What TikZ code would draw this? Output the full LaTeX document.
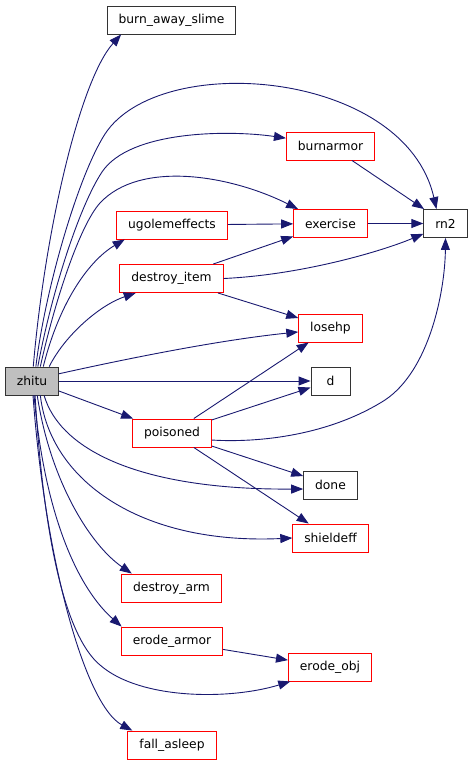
\documentclass[tikz,border=0pt]{standalone}
\usepackage{fontspec}
\setmainfont{DejaVu Sans}
\usetikzlibrary{arrows.meta}
\definecolor{navy}{RGB}{25,25,112}
\definecolor{red}{RGB}{255,0,0}
\definecolor{grey}{RGB}{191,191,191}

\begin{document}
\begin{tikzpicture}[x=1pt, y=-1pt, font=\fontsize{12.3}{14}\selectfont,
  fn/.style={draw=black!80, line width=0.9pt, fill=white, minimum height=28pt, inner xsep=11.5pt, inner ysep=0pt},
  fnred/.style={fn, draw=red},
  call/.style={-{Triangle[length=12pt,width=9pt]}, line width=0.9pt, navy}]
\useasboundingbox (0,0) rectangle (472,765);
\node[fn, fill=grey] (zhitu) at (32,381) {zhitu};
\node[fn] (slime) at (171.5,20) {burn\_away\_slime};
\node[fnred] (burn) at (330.5,146) {burnarmor};
\node[fn] (rn2) at (445.5,223.5) {rn2};
\node[fnred] (ugol) at (172,225) {ugolemeffects};
\node[fnred] (exer) at (330.5,223.5) {exercise};
\node[fnred] (ditem) at (171.5,278.5) {destroy\_item};
\node[fnred] (losehp) at (330.5,328) {losehp};
\node[fn, minimum width=39pt] (d) at (330.5,381) {d};
\node[fnred] (pois) at (172,433) {poisoned};
\node[fn] (finish) at (330.5,485) {done};
\node[fnred] (shield) at (330.5,538) {shieldeff};
\node[fnred] (darm) at (171.5,588) {destroy\_arm};
\node[fnred] (earmor) at (172,641) {erode\_armor};
\node[fnred] (eobj) at (330,667) {erode\_obj};
\node[fnred] (sleep) at (172,745) {fall\_asleep};
\draw[call] (zhitu.85) .. controls (45,230) and (80,80) .. (slime.196);
\draw[call] (zhitu.75) .. controls (45,290) and (78,176) .. (105,134) .. controls (160,50) and (405,70) .. (rn2.122);
\draw[call] (zhitu.68) .. controls (52,290) and (80,205) .. (102,172) .. controls (130,130) and (230,130) .. (burn.170);
\draw[call] (zhitu.60) .. controls (55,300) and (80,225) .. (100,203) .. controls (140,160) and (230,175) .. (exer.156);
\draw[call] (zhitu.52) .. controls (60,300) and (90,260) .. (ugol.197);
\draw[call] (zhitu.40) .. controls (65,335) and (100,305) .. (ditem.202);
\draw[call] (zhitu.15) .. controls (130,358) and (220,340) .. (losehp.187);
\draw[call] (zhitu) -- (d);
\draw[call] (zhitu) -- (pois);
\draw[call] (zhitu.-50) .. controls (60,450) and (140,490) .. ([yshift=-4pt]finish.west);
\draw[call] (zhitu.-60) .. controls (50,480) and (140,545) .. (shield.west);
\draw[call] (zhitu.-70) .. controls (50,480) and (90,545) .. (darm.160);
\draw[call] (zhitu.-82) .. controls (45,520) and (80,590) .. (earmor.164);
\draw[call] (zhitu.-78) .. controls (45,560) and (70,640) .. (100,665) .. controls (140,700) and (230,700) .. (eobj.200);
\draw[call] (zhitu.-86) .. controls (45,560) and (85,705) .. (sleep.160);
\draw[call] (ugol) -- (exer);
\draw[call] (ditem) -- (exer);
\draw[call] (ditem.east) .. controls (300,275) and (380,252) .. (rn2.205);
\draw[call] (ditem) -- (losehp);
\draw[call] (burn) -- (rn2);
\draw[call] (exer) -- (rn2);
\draw[call] (pois) -- (losehp);
\draw[call] (pois) -- (d);
\draw[call] (pois.-10) .. controls (260,443) and (330,435) .. (385,400) .. controls (430,370) and (445,290) .. (rn2.south);
\draw[call] (pois) -- (finish);
\draw[call] (pois) -- (shield);
\draw[call] (earmor) -- (eobj);
\end{tikzpicture}
\end{document}
